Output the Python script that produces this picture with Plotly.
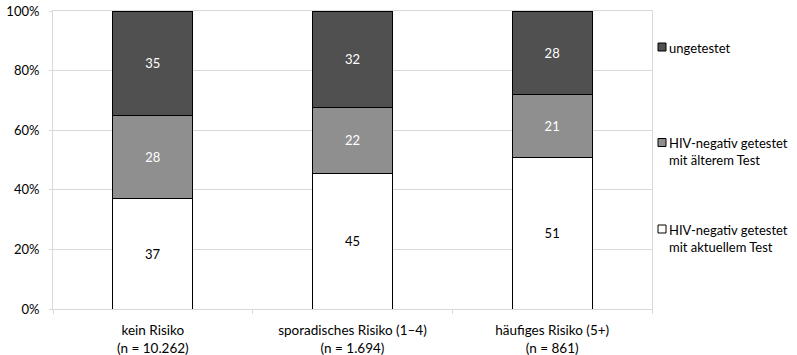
import plotly.graph_objects as go

categories = ["kein Risiko<br>(n = 10.262)",
              "sporadisches Risiko (1–4)<br>(n = 1.694)",
              "häufiges Risiko (5+)<br>(n = 861)"]
aktuell = [37, 45, 51]
aelter = [28, 22, 21]
ungetestet = [35, 32, 28]

series_names = ["HIV-negativ getestet<br>mit aktuellem Test",
                "HIV-negativ getestet<br>mit älterem Test",
                "ungetestet"]
series_values = [aktuell, aelter, ungetestet]
series_colors = ["#ffffff", "#8f8f8f", "#505050"]
text_colors = ["#000000", "#ffffff", "#ffffff"]

FONT = "Lato"

fig = go.Figure()
for name, vals, col, tcol in zip(series_names, series_values, series_colors, text_colors):
    fig.add_trace(go.Bar(
        x=categories, y=vals, name=name,
        text=[str(v) for v in vals],
        textposition="inside", insidetextanchor="middle", textangle=0,
        textfont=dict(family=FONT, size=13, color=tcol),
        marker=dict(color=col, line=dict(color="#000000", width=1)),
        showlegend=False,
    ))

fig.update_layout(
    width=797, height=355,
    margin=dict(l=53, r=145, t=11, b=46, autoexpand=False),
    barmode="stack", barnorm="percent", bargap=0.6,
    plot_bgcolor="#ffffff", paper_bgcolor="#ffffff",
    font=dict(family=FONT, size=13, color="#000000"),
    uniformtext=dict(mode="show", minsize=10),
)
fig.update_yaxes(
    range=[0, 100], dtick=20, ticksuffix="%",
    showgrid=True, gridcolor="#d9d9d9", gridwidth=1,
    showline=True, linecolor="#d9d9d9", linewidth=1, mirror=True,
    ticks="outside", ticklen=3, tickcolor="#d9d9d9",
    ticklabelstandoff=7, zeroline=False, automargin=False,
    tickfont=dict(family=FONT, size=13),
)
fig.update_xaxes(
    showline=True, linecolor="#d9d9d9", linewidth=1, mirror=True,
    ticks="outside", ticklen=4, tickcolor="#d9d9d9", tickson="boundaries",
    ticklabelstandoff=9, automargin=False,
    tickfont=dict(family=FONT, size=13.5),
)

# legend entries (positioned like the reference, on the right of the plot)
legend_items = [
    ("ungetestet", "#505050", 47, 48),
    ("HIV-negativ getestet<br>mit älterem Test", "#8f8f8f", 142.5, 151),
    ("HIV-negativ getestet<br>mit aktuellem Test", "#ffffff", 229, 238),
]
x0, y0, h = 53, 309, 298
w = 599
def px_x(px):
    return (px - x0) / w
def px_y(py):
    return (y0 - py) / h

for label, col, my, ty in legend_items:
    fig.add_shape(type="rect", xref="paper", yref="paper",
                  x0=px_x(658), x1=px_x(666), y0=px_y(my + 4), y1=px_y(my - 4),
                  fillcolor=col, line=dict(color="#000000", width=1))
    fig.add_annotation(xref="paper", yref="paper", x=px_x(667), y=px_y(ty),
                       xanchor="left", yanchor="middle", align="left",
                       text=label, showarrow=False,
                       font=dict(family=FONT, size=13, color="#000000"))

fig.write_html("out.html",
               config={"displayModeBar": False},
               post_script="document.body.style.margin='0';")
